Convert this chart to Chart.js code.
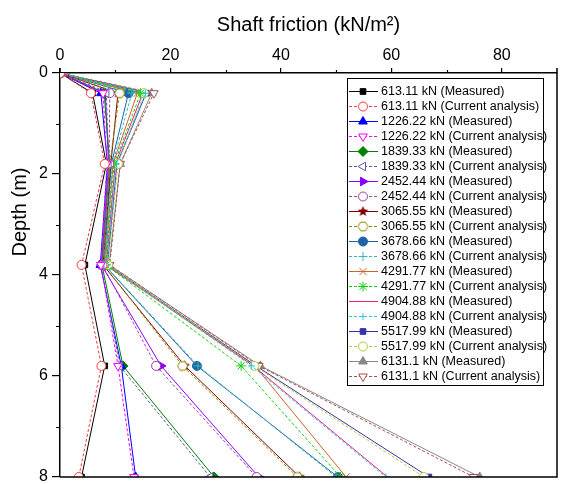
<!DOCTYPE html>
<html>
<head>
<meta charset="utf-8">
<script src="https://cdn.jsdelivr.net/npm/chart.js@4/dist/chart.umd.min.js"></script>
<style>
  html, body { margin: 0; padding: 0; background: #fff; }
  #wrap { width: 563px; height: 484px; }
</style>
</head>
<body>
<div id="wrap"><canvas id="friction" width="563" height="484"></canvas></div>
<script>
/* Shaft friction vs depth — measured / current analysis, per load step */

const depth = [0, 0.4, 1.8, 3.8, 5.8, 8.0];
const loadLabels = ['613.11', '1226.22', '1839.33', '2452.44', '3065.55',
                    '3678.66', '4291.77', '4904.88', '5517.99', '6131.1'];

const measured613  = [0, 5.9, 8.4, 4.5, 8.1, 3.9];
const analysis613  = [0, 5.6, 8.1, 3.9, 7.5, 3.4];
const measured1226 = [0, 7.4, 8.6, 7.3, 11.1, 13.7];
const analysis1226 = [0, 7.8, 8.5, 7.4, 10.5, 13.4];
const measured1839 = [0, 8.0, 9.0, 7.6, 11.4, 27.9];
const analysis1839 = [0, 8.4, 8.8, 7.5, 10.8, 27.2];
const measured2452 = [0, 8.2, 8.8, 7.5, 18.3, 36.0];
const analysis2452 = [0, 9.0, 8.9, 7.7, 17.4, 35.6];
const measured3065 = [0, 10.5, 9.2, 7.8, 22.6, 43.4];
const analysis3065 = [0, 10.8, 9.0, 7.9, 22.2, 43.0];
const measured3678 = [0, 12.4, 9.3, 8.0, 24.8, 50.3];
const analysis3678 = [0, 13.0, 9.5, 8.1, 25.0, 50.0];
const measured4291 = [0, 14.0, 9.6, 8.2, 35.3, 51.8];
const analysis4291 = [0, 14.6, 9.8, 8.3, 32.8, 50.8];
const measured4904 = [0, 15.0, 10.0, 8.4, 35.0, 59.3];
const analysis4904 = [0, 15.5, 10.2, 8.5, 34.7, 59.0];
const measured5517 = [0, 15.6, 10.3, 8.6, 35.5, 66.8];
const analysis5517 = [0, 15.2, 10.5, 8.7, 35.2, 65.9];
const measured6131 = [0, 16.6, 10.9, 8.9, 36.3, 76.0];
const analysis6131 = [0, 17.0, 10.9, 9.0, 36.0, 74.9];

const xTicks = [0, 20, 40, 60, 80];
const xMinor = [10, 30, 50, 70];
const yTicks = [0, 2, 4, 6, 8];
const yMinor = [1, 3, 5, 7];

const FONT = '"Liberation Sans", Arial, sans-serif';

// small canvas markers for shapes Chart.js does not have
function starMarker(color, r) {
  const c = document.createElement('canvas');
  const s = Math.ceil(r * 2 + 2);
  c.width = s; c.height = s;
  const g = c.getContext('2d');
  g.beginPath();
  for (let i = 0; i < 10; i++) {
    const rr = i % 2 === 0 ? r : r * 0.45;
    const a = -Math.PI / 2 + i * Math.PI / 5;
    g.lineTo(s / 2 + rr * Math.cos(a), s / 2 + rr * Math.sin(a));
  }
  g.closePath();
  g.fillStyle = color; g.fill();
  return c;
}
function hexMarker(color, r) {
  const c = document.createElement('canvas');
  const s = Math.ceil(r * 2 + 3);
  c.width = s; c.height = s;
  const g = c.getContext('2d');
  g.beginPath();
  for (let i = 0; i < 6; i++) {
    const a = i * Math.PI / 3;
    g.lineTo(s / 2 + r * Math.cos(a), s / 2 + r * Math.sin(a));
  }
  g.closePath();
  g.fillStyle = '#fff'; g.fill();
  g.strokeStyle = color; g.lineWidth = 1; g.stroke();
  return c;
}

// [values, color, pointStyle, rotation, filled, radius]
const series = [
  [measured613,  '#000000', 'rect', 0, true, 4],
  [analysis613,  '#ff3b3b', 'circle', 0, false, 4.5],
  [measured1226, '#0000ff', 'triangle', 0, true, 5],
  [analysis1226, '#ff00ff', 'triangle', 180, false, 5],
  [measured1839, '#008000', 'rectRot', 0, true, 5],
  [analysis1839, '#5a5aa8', 'triangle', -90, false, 5],
  [measured2452, '#8a00ff', 'triangle', 90, true, 5],
  [analysis2452, '#a040a0', 'circle', 0, false, 4.5],
  [measured3065, '#800000', starMarker('#800000', 5.5), 0, true, 5],
  [analysis3065, '#8a8a00', hexMarker('#8a8a00', 5), 0, false, 5],
  [measured3678, '#1f64a8', 'circle', 0, true, 4.5],
  [analysis3678, '#3ab4b4', 'cross', 0, false, 4.5],
  [measured4291, '#c8642c', 'crossRot', 0, false, 5],
  [analysis4291, '#10d010', 'star', 0, false, 5],
  [measured4904, '#e8207e', 'circle', 0, true, 0],
  [analysis4904, '#28c8e8', 'cross', 0, false, 3.5],
  [measured5517, '#3434a8', 'rect', 0, true, 4],
  [analysis5517, '#b0c83c', 'circle', 0, false, 4.5],
  [measured6131, '#888888', 'triangle', 0, true, 5],
  [analysis6131, '#a85050', 'triangle', 180, false, 5],
];

const datasets = series.map((s, i) => {
  const isMeasured = i % 2 === 0;
  const [vals, color, style, rot, filled, radius] = s;
  return {
    label: loadLabels[Math.floor(i / 2)] + ' kN (' + (isMeasured ? 'Measured' : 'Current analysis') + ')',
    data: vals.map((v, k) => ({ x: v, y: depth[k] })),
    showLine: true,
    borderColor: color,
    backgroundColor: filled ? color : '#ffffff',
    borderWidth: 1,
    borderDash: isMeasured ? [] : [3, 2],
    pointStyle: style,
    rotation: rot,
    pointRadius: radius,
    pointBorderColor: color,
    pointBackgroundColor: filled ? color : '#ffffff',
    pointBorderWidth: 1,
    order: isMeasured ? 2 : 1,
  };
});

// legend with line + marker, drawn inside plot area
const legendBox = {
  id: 'legendBox',
  afterDraw(chart) {
    const ctx = chart.ctx;
    const x0 = 347, y0 = 78, w = 196, h = 307, step = 15;
    ctx.save();
    ctx.fillStyle = '#fff';
    ctx.fillRect(x0, y0, w, h);
    ctx.strokeStyle = '#000';
    ctx.lineWidth = 1;
    ctx.strokeRect(x0 + 0.5, y0 + 0.5, w, h);
    chart.data.datasets.forEach((ds, i) => {
      const y = y0 + 13 + i * step;
      ctx.strokeStyle = ds.borderColor;
      ctx.lineWidth = 1;
      ctx.setLineDash(ds.borderDash);
      ctx.beginPath();
      ctx.moveTo(x0 + 2, y + 0.5);
      ctx.lineTo(x0 + 31, y + 0.5);
      ctx.stroke();
      ctx.setLineDash([]);
      if (ds.pointRadius > 0) {
        ctx.fillStyle = ds.pointBackgroundColor;
        ctx.strokeStyle = ds.pointBorderColor;
        Chart.helpers.drawPoint(ctx, {
          pointStyle: ds.pointStyle, rotation: ds.rotation,
          radius: ds.pointRadius, borderWidth: 1
        }, x0 + 16, y + 0.5);
      }
      ctx.fillStyle = '#000';
      ctx.font = '12.5px ' + FONT;
      ctx.textBaseline = 'middle';
      ctx.textAlign = 'left';
      ctx.fillText(ds.label, x0 + 34, y + 1);
    });
    ctx.restore();
  }
};

// right/bottom frame edges, minor ticks, y title
const frame = {
  id: 'frame',
  afterDraw(chart) {
    const { left, right, top, bottom } = chart.chartArea;
    const { x, y } = chart.scales;
    const ctx = chart.ctx;
    ctx.save();
    ctx.strokeStyle = '#000';
    ctx.lineWidth = 1.5;
    ctx.beginPath();
    ctx.moveTo(right, top - 5);
    ctx.lineTo(right, bottom);
    ctx.lineTo(left, bottom);
    ctx.moveTo(left, top);
    ctx.lineTo(left, top - 5);
    ctx.stroke();
    ctx.lineWidth = 1.2;
    ctx.beginPath();
    xMinor.forEach(v => {
      const px = Math.round(x.getPixelForValue(v)) + 0.5;
      ctx.moveTo(px, top); ctx.lineTo(px, top - 3);
    });
    yMinor.forEach(v => {
      const py = Math.round(y.getPixelForValue(v)) + 0.5;
      ctx.moveTo(left, py); ctx.lineTo(left - 4, py);
    });
    ctx.stroke();
    ctx.translate(20, 212);
    ctx.rotate(-Math.PI / 2);
    ctx.fillStyle = '#000';
    ctx.font = '20px ' + FONT;
    ctx.textAlign = 'center';
    ctx.textBaseline = 'middle';
    ctx.fillText('Depth (m)', 0, 0);
    ctx.restore();
  }
};

new Chart(document.getElementById('friction'), {
  type: 'scatter',
  data: { datasets },
  options: {
    responsive: false,
    animation: false,
    layout: { padding: { left: 0, right: 3, top: 0, bottom: 7 } },
    plugins: { legend: { display: false }, tooltip: { enabled: false } },
    scales: {
      x: {
        type: 'linear', position: 'top', min: 0, max: 90,
        afterFit: (s) => { s.height = 73; s.paddingLeft = 0; s.paddingRight = 0; },
        afterBuildTicks: (s) => { s.ticks = xTicks.map(v => ({ value: v })); },
        ticks: {
          color: '#000', font: { family: FONT, size: 16 }, padding: 3, maxRotation: 0, autoSkip: false
        },
        grid: { drawOnChartArea: false, drawTicks: true, tickLength: 5, color: '#000', lineWidth: 1.2 },
        border: { display: true, color: '#000', width: 1.5 },
        title: { display: true, text: 'Shaft friction (kN/m²)', color: '#000',
                 font: { family: FONT, size: 20 }, padding: { top: 13, bottom: 0 } }
      },
      y: {
        type: 'linear', reverse: true, min: 0, max: 8,
        afterFit: (s) => { s.width = 60; s.paddingTop = 0; s.paddingBottom = 0; },
        afterBuildTicks: (s) => { s.ticks = yTicks.map(v => ({ value: v })); },
        ticks: {
          color: '#000', font: { family: FONT, size: 16 }, padding: 4, autoSkip: false
        },
        grid: { drawOnChartArea: false, drawTicks: true, tickLength: 8, color: '#000', lineWidth: 1.2 },
        border: { display: true, color: '#000', width: 1.5 }
      }
    }
  },
  plugins: [frame, legendBox]
});
</script>
</body>
</html>
